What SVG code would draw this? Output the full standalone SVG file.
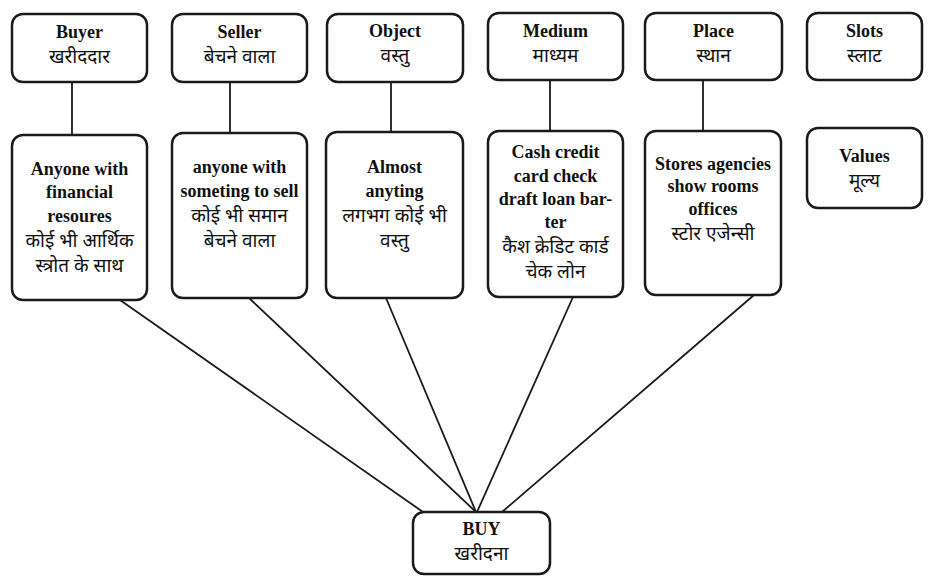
<svg xmlns="http://www.w3.org/2000/svg" width="935" height="576" viewBox="0 0 935 576">
<style>
.box{fill:#fff;stroke:#1a1a1a;stroke-width:2.5}
.en{font-family:"Liberation Serif","Times New Roman",serif;font-weight:bold;font-size:18px;fill:#111;text-anchor:middle}
.hi{font-family:"Noto Sans Devanagari","Lohit Devanagari","Noto Sans","Liberation Sans",sans-serif;font-size:19px;fill:#111;text-anchor:middle}
.con{stroke:#1a1a1a;stroke-width:1.8;fill:none}
</style>
<rect width="935" height="576" fill="#fff"/>
<g id="connectors">
<line class="con" x1="72" y1="82" x2="72" y2="135"/>
<line class="con" x1="230" y1="82" x2="230" y2="133"/>
<line class="con" x1="391" y1="82" x2="391" y2="132"/>
<line class="con" x1="550" y1="80" x2="550" y2="131"/>
<line class="con" x1="703" y1="80" x2="703" y2="131"/>
<line class="con" x1="120" y1="300" x2="423" y2="512"/>
<line class="con" x1="249" y1="298" x2="476" y2="512"/>
<line class="con" x1="386" y1="298" x2="476" y2="512"/>
<line class="con" x1="573" y1="297" x2="477" y2="512"/>
<line class="con" x1="754" y1="295" x2="502" y2="512"/>
</g>
<g id="buyer">
<rect class="box" x="12" y="14" width="135" height="68" rx="11"/>
<text class="en" x="79.5" y="38">Buyer</text>
<text class="hi" x="79.5" y="63">खरीददार</text>
</g>
<g id="seller">
<rect class="box" x="172" y="14" width="135" height="68" rx="11"/>
<text class="en" x="239.5" y="38">Seller</text>
<text class="hi" x="239.5" y="63">बेचने वाला</text>
</g>
<g id="object">
<rect class="box" x="327" y="14" width="136" height="68" rx="11"/>
<text class="en" x="395" y="37">Object</text>
<text class="hi" x="395" y="62">वस्तु</text>
</g>
<g id="medium">
<rect class="box" x="488" y="13" width="135" height="67" rx="11"/>
<text class="en" x="555.5" y="37">Medium</text>
<text class="hi" x="555.5" y="62">माध्यम</text>
</g>
<g id="place">
<rect class="box" x="645" y="13" width="137" height="67" rx="11"/>
<text class="en" x="713.5" y="37">Place</text>
<text class="hi" x="713.5" y="62">स्थान</text>
</g>
<g id="slots">
<rect class="box" x="807" y="13" width="115" height="67" rx="11"/>
<text class="en" x="864.5" y="37">Slots</text>
<text class="hi" x="864.5" y="62">स्लाट</text>
</g>
<g id="buyer-detail">
<rect class="box" x="12" y="135" width="135" height="165" rx="11"/>
<text class="en" x="79.5" y="175">Anyone with</text>
<text class="en" x="79.5" y="198">financial</text>
<text class="en" x="79.5" y="222">resoures</text>
<text class="hi" x="79.5" y="247">कोई भी आर्थिक</text>
<text class="hi" x="79.5" y="272">स्त्रोत के साथ</text>
</g>
<g id="seller-detail">
<rect class="box" x="172" y="133" width="135" height="165" rx="11"/>
<text class="en" x="239.5" y="173">anyone with</text>
<text class="en" x="239.5" y="197">someting to sell</text>
<text class="hi" x="239.5" y="222">कोई भी समान</text>
<text class="hi" x="239.5" y="247">बेचने वाला</text>
</g>
<g id="object-detail">
<rect class="box" x="326" y="132" width="137" height="166" rx="11"/>
<text class="en" x="394.5" y="173">Almost</text>
<text class="en" x="394.5" y="197">anyting</text>
<text class="hi" x="394.5" y="222">लगभग कोई भी</text>
<text class="hi" x="394.5" y="247">वस्तु</text>
</g>
<g id="medium-detail">
<rect class="box" x="488" y="131" width="135" height="166" rx="11"/>
<text class="en" x="555.5" y="158">Cash credit</text>
<text class="en" x="555.5" y="182">card check</text>
<text class="en" x="555.5" y="205">draft loan bar-</text>
<text class="en" x="555.5" y="228">ter</text>
<text class="hi" x="555.5" y="253">कैश क्रेडिट कार्ड</text>
<text class="hi" x="555.5" y="278">चेक लोन</text>
</g>
<g id="place-detail">
<rect class="box" x="645" y="131" width="136" height="164" rx="11"/>
<text class="en" x="713" y="170">Stores agencies</text>
<text class="en" x="713" y="192">show rooms</text>
<text class="en" x="713" y="215">offices</text>
<text class="hi" x="713" y="240">स्टोर एजेन्सी</text>
</g>
<g id="values">
<rect class="box" x="807" y="128" width="115" height="80" rx="11"/>
<text class="en" x="864.5" y="162">Values</text>
<text class="hi" x="864.5" y="187">मूल्य</text>
</g>
<g id="buy">
<rect class="box" x="413" y="512" width="137" height="62" rx="11"/>
<text class="en" x="481.5" y="535">BUY</text>
<text class="hi" x="481.5" y="560">खरीदना</text>
</g>
</svg>
